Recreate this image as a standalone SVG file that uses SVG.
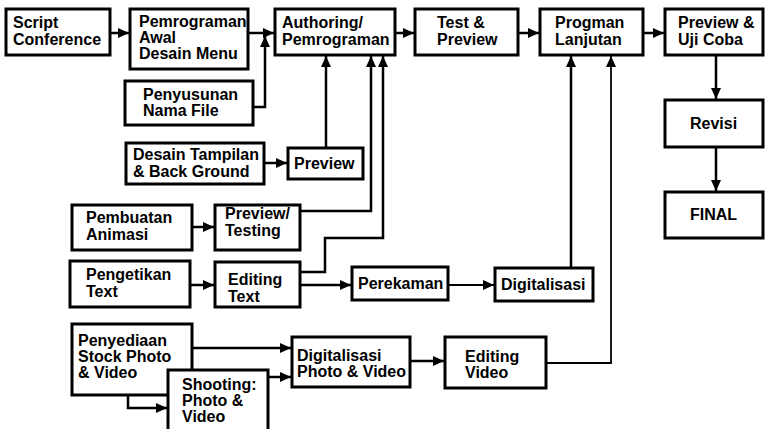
<svg xmlns="http://www.w3.org/2000/svg" width="765" height="429" viewBox="0 0 765 429">
<style>
rect.b{fill:#fff;stroke:#000;stroke-width:3}
text{font-family:"Liberation Sans",Arial,sans-serif;font-weight:bold;font-size:16px;fill:#000}
.c path{fill:none;stroke:#000;stroke-width:2.5;marker-end:url(#ah)}
.c path.t{stroke-width:1.8}
</style>
<defs>
<marker id="ah" markerUnits="userSpaceOnUse" markerWidth="12" markerHeight="10" refX="11" refY="5" orient="auto"><path d="M0,0 L11,5 L0,10 z" fill="#000"/></marker>
</defs>
<rect width="765" height="429" fill="#fff"/>
<g class="c" id="connectors">
<path d="M110,33 H129"/>
<path d="M248,33 H274"/>
<path d="M253,107 H265 V36"/>
<path d="M395,33 H414"/>
<path d="M518,33 H539"/>
<path d="M643,33 H664"/>
<path d="M716,55 V99"/>
<path d="M716,147 V191"/>
<path d="M264,163 H287"/>
<path d="M326,148 V56"/>
<path d="M192,227 H214"/>
<path d="M300,211 H371 V56"/>
<path d="M190,285 H214"/>
<path d="M300,272 H325 V238 H383 V56"/>
<path d="M300,285 H351"/>
<path class="t" d="M448,285 H494"/>
<path d="M571,268 V56"/>
<path class="t" d="M546,363 H611 V56"/>
<path d="M192,348 H291"/>
<path d="M128,395 V408 H167"/>
<path d="M268,377 H291"/>
<path d="M410,361 H444"/>
</g>
<g id="n1"><rect class="b" x="6" y="9" width="104" height="46"/><text x="13" y="28">Script</text><text x="13" y="45">Conference</text></g>
<g id="n2"><rect class="b" x="130" y="9" width="118" height="60"/><text x="139" y="27">Pemrograman</text><text x="139" y="43">Awal</text><text x="139" y="59">Desain Menu</text></g>
<g id="n3"><rect class="b" x="275" y="9" width="120" height="46"/><text x="282" y="28">Authoring/</text><text x="282" y="45">Pemrograman</text></g>
<g id="n4"><rect class="b" x="415" y="9" width="103" height="46"/><text x="437" y="28">Test &amp;</text><text x="437" y="45">Preview</text></g>
<g id="n5"><rect class="b" x="540" y="9" width="103" height="46"/><text x="555" y="28">Progman</text><text x="555" y="45">Lanjutan</text></g>
<g id="n6"><rect class="b" x="665" y="9" width="98" height="46"/><text x="678" y="28">Preview &amp;</text><text x="678" y="45">Uji Coba</text></g>
<g id="n7"><rect class="b" x="125" y="81" width="128" height="44"/><text x="143" y="100">Penyusunan</text><text x="143" y="116">Nama File</text></g>
<g id="n8"><rect class="b" x="665" y="100" width="98" height="47"/><text x="690" y="129">Revisi</text></g>
<g id="n9"><rect class="b" x="665" y="192" width="98" height="46"/><text x="690" y="220">FINAL</text></g>
<g id="n10"><rect class="b" x="126" y="143" width="138" height="41"/><text x="133" y="160">Desain Tampilan</text><text x="133" y="177">&amp; Back Ground</text></g>
<g id="n11"><rect class="b" x="288" y="148" width="75" height="31"/><text x="294" y="169">Preview</text></g>
<g id="n12"><rect class="b" x="72" y="205" width="120" height="45"/><text x="86" y="223">Pembuatan</text><text x="86" y="240">Animasi</text></g>
<g id="n13"><rect class="b" x="215" y="205" width="85" height="45"/><text x="225" y="219">Preview/</text><text x="225" y="236">Testing</text></g>
<g id="n14"><rect class="b" x="70" y="261" width="120" height="46"/><text x="86" y="280">Pengetikan</text><text x="86" y="297">Text</text></g>
<g id="n15"><rect class="b" x="215" y="262" width="85" height="45"/><text x="228" y="285">Editing</text><text x="228" y="302">Text</text></g>
<g id="n16"><rect class="b" x="352" y="267" width="96" height="33"/><text x="358" y="289">Perekaman</text></g>
<g id="n17"><rect class="b" x="495" y="268" width="98" height="33"/><text x="501" y="290">Digitalisasi</text></g>
<g id="n18"><rect class="b" x="72" y="324" width="120" height="71"/><text x="78" y="346">Penyediaan</text><text x="78" y="362">Stock Photo</text><text x="78" y="378">&amp; Video</text></g>
<g id="n19"><rect class="b" x="168" y="370" width="100" height="62"/><text x="182" y="390">Shooting:</text><text x="182" y="406">Photo &amp;</text><text x="182" y="422">Video</text></g>
<g id="n20"><rect class="b" x="292" y="337" width="118" height="50"/><text x="297" y="361">Digitalisasi</text><text x="297" y="377">Photo &amp; Video</text></g>
<g id="n21"><rect class="b" x="445" y="337" width="101" height="51"/><text x="465" y="362">Editing</text><text x="465" y="378">Video</text></g>
</svg>
